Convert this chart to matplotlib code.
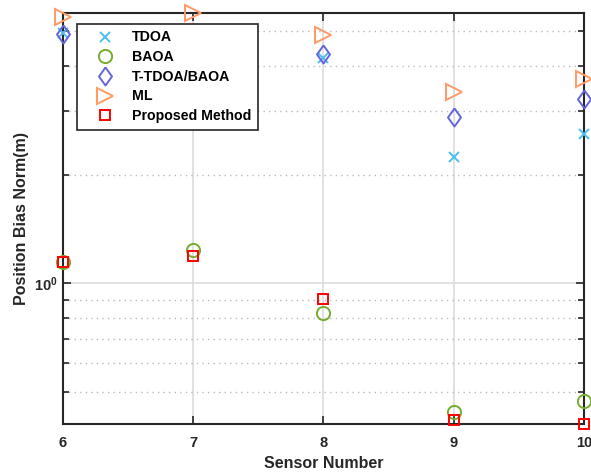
import matplotlib
matplotlib.use("Agg")
import matplotlib.pyplot as plt
from matplotlib.ticker import LogLocator, NullFormatter, FixedLocator

sensors = [6, 7, 8, 9, 10]
tdoa = [4.95, 4.90, 4.22, 2.24, 2.59]
baoa = [1.147, 1.235, 0.829, 0.440, 0.470]
ttdoa_baoa = [4.92, 4.95, 4.33, 2.90, 3.24]
ml = [5.48, 5.62, 4.89, 3.39, 3.69]
proposed = [1.147, 1.19, 0.905, 0.417, 0.407]

plt.rcParams['font.family'] = ['Liberation Sans', 'DejaVu Sans']
plt.rcParams['font.weight'] = 'bold'

fig = plt.figure(figsize=(5.91, 4.74), dpi=100)
ax = fig.add_axes([0.1066, 0.1055, 0.8814, 0.8671])

diamond = [(0, 1), (0.72, 0), (0, -1), (-0.72, 0), (0, 1)]
ax.plot(sensors, tdoa, linestyle='none', marker='x', ms=7, mew=1.4, color='#4DBEEE', label='TDOA', clip_on=False, zorder=3)
ax.plot(sensors, baoa, linestyle='none', marker='o', ms=9.5, mew=1.4, mfc='none', mec='#77AC30', label='BAOA', clip_on=False, zorder=3)
ax.plot(sensors, ttdoa_baoa, linestyle='none', marker=diamond, ms=13, mew=1.4, mfc='none', mec='#6464DC', label='T-TDOA/BAOA', clip_on=False, zorder=3)
ax.plot(sensors, ml, linestyle='none', marker='>', ms=11.5, mew=1.4, mfc='none', mec='#FF9966', label='ML', clip_on=False, zorder=3)
ax.plot(sensors, proposed, linestyle='none', marker='s', ms=7, mew=1.4, mfc='none', mec='#FF0000', label='Proposed Method', clip_on=False, zorder=3)

ax.set_yscale('log')
allv = tdoa + baoa + ttdoa_baoa + ml + proposed
ax.set_ylim(min(allv), max(allv))
ax.set_xlim(6, 10)
ax.set_xticks(sensors)
ax.yaxis.set_major_locator(FixedLocator([1.0]))
ax.yaxis.set_minor_locator(LogLocator(base=10, subs=[2, 3, 4, 5, 6, 7, 8, 9], numticks=10))
ax.yaxis.set_minor_formatter(NullFormatter())

ax.grid(True, which='major', color='#DCDCDC', linewidth=1.2, linestyle='-')
ax.grid(True, which='minor', axis='y', color='#BBBBBB', linewidth=1.0, linestyle=(0, (1, 3)))
ax.set_axisbelow(True)

for s in ax.spines.values():
    s.set_color('#262626')
    s.set_linewidth(1.5)
ax.tick_params(axis='both', which='both', direction='in', top=True, right=True, colors='#262626', labelsize=10.5, width=1.2)
ax.tick_params(axis='both', which='major', length=6)
ax.tick_params(axis='both', which='minor', length=4)
ax.tick_params(axis='x', pad=9)
for lab in ax.get_xticklabels() + ax.get_yticklabels():
    lab.set_fontweight('bold')

ax.set_xlabel('Sensor Number', fontsize=11.5, fontweight='bold', color='#262626', labelpad=4)
ax.set_ylabel('Position Bias Norm(m)', fontsize=11.5, fontweight='bold', color='#262626', labelpad=4)

leg = ax.legend(loc='upper left', bbox_to_anchor=(0.027, 0.973), borderaxespad=0, fancybox=False, edgecolor='#262626',
                framealpha=1, fontsize=10.2, handletextpad=0.45, borderpad=0.45, labelspacing=0.4, handlelength=3.0)
leg.get_frame().set_linewidth(1.2)
for t in leg.get_texts():
    t.set_fontweight('bold')
leg.set_zorder(5)

fig.savefig('out.png', dpi=100)
